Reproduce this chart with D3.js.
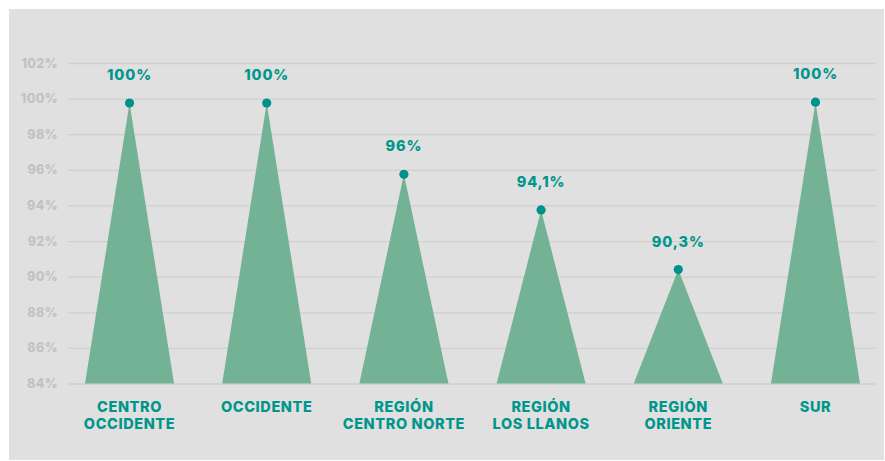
<!DOCTYPE html>
<html>
<head>
<meta charset="utf-8">
<script src="https://cdn.jsdelivr.net/npm/d3@7"></script>
<style>
  html, body { margin: 0; padding: 0; background: #ffffff; }
  svg { display: block; }
  text { font-family: Inter, "DejaVu Sans", sans-serif; font-weight: 800; }
</style>
</head>
<body>
<svg id="chart" width="885" height="461"></svg>
<script>
// ---- data ----
const categories = [
  ["CENTRO", "OCCIDENTE"],
  ["OCCIDENTE"],
  ["REGIÓN", "CENTRO NORTE"],
  ["REGIÓN", "LOS LLANOS"],
  ["REGIÓN", "ORIENTE"],
  ["SUR"]
];
const values = [99.75, 99.75, 95.75, 93.75, 90.4, 99.8];
const valueLabels = ["100%", "100%", "96%", "94,1%", "90,3%", "100%"];
const yTicks = [84, 86, 88, 90, 92, 94, 96, 98, 100, 102];
const yTickLabels = ["84%", "86%", "88%", "90%", "92%", "94%", "96%", "98%", "100%", "102%"];

// ---- layout ----
const svg = d3.select("#chart");
const plot = { left: 68, right: 875, top: 63, bottom: 383.5 };

svg.append("rect")
  .attr("x", 9).attr("y", 9).attr("width", 875).attr("height", 451)
  .attr("fill", "#e0e0e0");

const y = d3.scaleLinear().domain([84, 102]).range([plot.bottom, plot.top]);
const x = d3.scaleBand()
  .domain(d3.range(categories.length))
  .range([61, 884])
  .paddingInner(0.351)
  .paddingOuter(0.175);

// grid + y axis
const yAxis = d3.axisLeft(y)
  .tickValues(yTicks)
  .tickSize(-(plot.right - plot.left))
  .tickPadding(10)
  .tickFormat((d, i) => yTickLabels[i]);

const gy = svg.append("g")
  .attr("transform", `translate(${plot.left},0)`)
  .call(yAxis);
gy.select(".domain").remove();
gy.selectAll(".tick line").attr("stroke", "#cfcfcf").attr("stroke-width", 1.3);
gy.selectAll(".tick text")
  .attr("fill", "#c2c2c2")
  .attr("font-size", 12.5)
  .attr("font-weight", 800)
  .attr("letter-spacing", 0.4)
  .attr("font-family", "Inter, sans-serif")
  .attr("x", -10);

// triangles
const g = svg.append("g");
g.selectAll("path.tri")
  .data(values)
  .join("path")
  .attr("class", "tri")
  .attr("fill", "#73b294")
  .attr("d", (d, i) => {
    const x0 = x(i), x1 = x(i) + x.bandwidth(), xc = x(i) + x.bandwidth() / 2;
    return `M${x0},${y(84)}L${xc},${y(d)}L${x1},${y(84)}Z`;
  });

// dots
g.selectAll("circle.dot")
  .data(values)
  .join("circle")
  .attr("class", "dot")
  .attr("cx", (d, i) => x(i) + x.bandwidth() / 2)
  .attr("cy", d => y(d))
  .attr("r", 4.6)
  .attr("fill", "#00928a");

// value labels
g.selectAll("text.val")
  .data(values)
  .join("text")
  .attr("class", "val")
  .attr("x", (d, i) => x(i) + x.bandwidth() / 2)
  .attr("y", d => y(d) - 23)
  .attr("text-anchor", "middle")
  .attr("fill", "#00968b")
  .attr("font-size", 14.5)
  .attr("letter-spacing", 0.9)
  .text((d, i) => valueLabels[i]);

// category labels
const cat = g.selectAll("text.cat")
  .data(categories)
  .join("text")
  .attr("class", "cat")
  .attr("text-anchor", "middle")
  .attr("fill", "#00968b")
  .attr("font-size", 14.5)
  .attr("letter-spacing", 0.6)
  .attr("transform", (d, i) => `translate(${x(i) + x.bandwidth() / 2},${d.length > 1 ? 412 : 412})`);
cat.selectAll("tspan")
  .data(d => d)
  .join("tspan")
  .attr("x", 0)
  .attr("dy", (d, j) => j === 0 ? 0 : 16.5)
  .text(d => d);
</script>
</body>
</html>
